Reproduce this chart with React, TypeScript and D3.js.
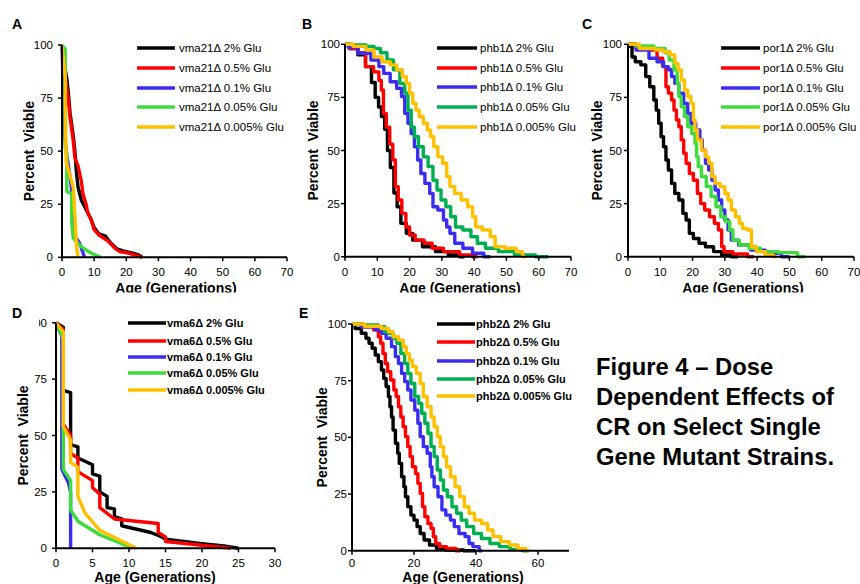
import React from 'react';
import * as d3 from 'd3';

type Pt = [number, number];

// ---------- Panel A : vma21Δ ----------
const vma21Labels = ['vma21Δ 2% Glu', 'vma21Δ 0.5% Glu', 'vma21Δ 0.1% Glu', 'vma21Δ 0.05% Glu', 'vma21Δ 0.005% Glu'];
const vma21_2: Pt[] = [[0,100],[0.5,93],[1.5,84],[2,77],[2.5,68],[3.5,57],[4,50],[4.5,40],[5,33],[6,27],[7,24],[8,21],[9,18],[10,14],[11.5,11],[13.5,10],[15,7],[17,4],[19,3],[22,2],[24,1],[25,0]];
const vma21_05: Pt[] = [[0,100],[1,85],[2,74],[2.5,66],[3.5,55],[4,47],[5,43],[6,36],[6.5,30],[7.5,25],[8,21],[9,18],[10,13],[11.5,10.5],[14,8],[15,6.6],[16.5,4.2],[18,2.7],[21,1.9],[25,0]];
const vma21_01: Pt[] = [[0,100],[0.5,75],[1,55],[1.5,48],[2.5,38],[3,32],[3.5,20],[4,10],[5.5,6.6],[7,0]];
const vma21_005: Pt[] = [[0,100],[1,98],[1,52],[1.5,48],[1.5,31],[3,30],[3,17],[3.5,9],[6,5],[9,2],[12,0]];
const vma21_0005: Pt[] = [[0,100],[1,85],[1,72],[1.3,45],[3.5,33],[4,20],[4.5,5],[5,0]];

// ---------- Panel B : phb1Δ ----------
const phb1Labels = ['phb1Δ 2% Glu', 'phb1Δ 0.5% Glu', 'phb1Δ 0.1% Glu', 'phb1Δ 0.05% Glu', 'phb1Δ 0.005% Glu'];
const phb1_2: Pt[] = [[0,100],[3,98],[5,95],[7.7,89.5],[8.7,82],[10,75],[10.8,70.5],[11.8,66],[12.8,60],[13.5,50],[14.6,42],[15.7,30],[16.6,23.5],[18,15.7],[20,11],[22,7.8],[26,4.7],[30,2.4],[34,0.8],[37,0]];
const phb1_05: Pt[] = [[0,100],[3,98],[5,96],[7.7,89.5],[10,87],[11,83],[11.5,78.5],[12.3,67.5],[13.3,61],[14.4,53],[15.2,45.5],[16,33],[17,26.7],[18.2,20.4],[19.5,14],[20.5,10.2],[23,7.8],[26,6.3],[28,4],[33,2.4],[38,0.8],[41,0]];
const phb1_01: Pt[] = [[0,100],[2,98.6],[6,95.8],[10,92.6],[11,89.5],[13,86.3],[15,82.4],[17,79.3],[18,75.4],[19,67.5],[20,62.8],[21,58],[22,51.8],[23,45.5],[24,39.2],[25.5,34.5],[27,29.8],[27.5,23.5],[30,22],[31,17.3],[32,14],[33,11],[35,6.3],[38,4],[41,1.6],[45,0]];
const phb1_005: Pt[] = [[0,100],[5,99.7],[8,99],[10,98],[12,96],[14,92.6],[16,88],[18,81.6],[19,77],[20,69],[21,61],[22,56.5],[23.5,51.8],[25,47],[26.5,42.4],[28,36],[29,31.4],[30.5,26.7],[32,23.5],[33.5,18.8],[35,14],[38,12.6],[40,9.4],[42,6.3],[45,4],[50,2.4],[55,0.8],[63,0]];
const phb1_0005: Pt[] = [[0,100],[5,99],[8,97.3],[10,94],[13,91.8],[15,90.3],[17,88],[18.5,84.8],[19.5,81.6],[20.5,77],[21.5,72.2],[22.5,69],[23.5,66],[25,62.8],[26,59.7],[27,56.5],[28,51.8],[29.5,47],[31,44],[32,37.7],[33,33],[35,29.8],[37,26.7],[39,23.5],[40,18.8],[41,14],[44,12.6],[46,9.4],[47,4.7],[52,4],[54,2.4],[56,0]];

// ---------- Panel C : por1Δ ----------
const por1Labels = ['por1Δ 2% Glu', 'por1Δ 0.5% Glu', 'por1Δ 0.1% Glu', 'por1Δ 0.05% Glu', 'por1Δ 0.005% Glu'];
const por1_2: Pt[] = [[0,100],[1,99],[1.5,94],[3,91.8],[5,90.3],[6,84.8],[7.5,80],[8.5,73.8],[9,69],[10,62.8],[10.5,56.5],[11.5,51.8],[12,45.5],[13,40.8],[14,34.5],[15,29.8],[16.5,26.7],[17.5,20.4],[18.5,17.3],[19.5,11],[21,8.6],[23,6.3],[25,4.7],[28,2.4],[30,0.8],[34,0]];
const por1_05: Pt[] = [[0,100],[5,98],[8,97.3],[10,93.4],[11.5,89.5],[12,80],[13,77],[14,73.8],[14.5,69],[15.5,64.4],[16,61.2],[17,55],[17.5,48.7],[18.5,44],[19.5,39.2],[21,36],[22,29.8],[23,25],[24.5,22],[26,18.8],[27.5,15.7],[28.5,12.6],[29.5,4.7],[30,2.4],[35,1.3],[39,0]];
const por1_01: Pt[] = [[0,100],[5,97.3],[8,93.4],[10,91.8],[12,89.5],[13,88],[14,84.8],[15,81.6],[16.5,77],[18,72.2],[19,67.5],[20,62.8],[22,59.7],[22.5,55],[23.5,50.2],[24.5,44],[25.5,40.8],[26.5,36],[27.5,31.4],[28.5,26.7],[29.5,22],[30.5,17.3],[31.5,12.6],[32.5,7.8],[36,5.5],[40,3.1],[45,1.6],[50,0]];
const por1_005: Pt[] = [[0,100],[5,99.2],[11,98],[12,96],[13.5,92.6],[15,88],[15.5,81.6],[16,75.4],[17,70.6],[18,66],[19,61.2],[20.5,58],[21,53.4],[21.5,47],[22,42.4],[23.5,37.7],[25,33],[26.5,28.3],[28,23.5],[29.5,18.8],[31,16.5],[32,12.6],[33,7.8],[36,5.5],[39,4],[43,2.4],[50,1.9],[55,0]];
const por1_0005: Pt[] = [[0,100],[7,98],[10,97.3],[12,96.5],[14,95],[15,91],[16,88],[17,83.2],[18,78.5],[19,75.4],[20,72.2],[20.5,64.4],[21,59.7],[22,55],[23.5,50.2],[24.5,47],[25.5,44],[26.5,37.7],[27.5,34.5],[29.5,33],[30.5,29.8],[31.5,26.7],[32.5,22],[34,18.8],[35,15.7],[36,13.3],[38,12.6],[38.5,4.7],[41,2.4],[44,0.8],[46,0]];

// ---------- Panel D : vma6Δ ----------
const vma6Labels = ['vma6Δ 2% Glu', 'vma6Δ 0.5% Glu', 'vma6Δ 0.1% Glu', 'vma6Δ 0.05% Glu', 'vma6Δ 0.005% Glu'];
const vma6_2: Pt[] = [[0,100],[1,98],[1,70],[2,69],[2,46],[3,45],[3,40],[5,37],[5,33],[6,32],[6,25],[7,23],[7,18],[8,17.5],[8,14],[9,13],[9,10],[13,7],[14.5,5],[15,4],[20,2],[23,1],[25,0]];
const vma6_05: Pt[] = [[0,100],[1,97],[1,55],[2,50],[2,42],[3,40],[3,34],[5,30],[5,27],[6,24],[6,18],[8,13],[14,11],[14,7],[15,5],[15,3],[24,0]];
const vma6_01: Pt[] = [[0,100],[0.8,94],[0.8,35],[1.7,29],[2,25],[2,0]];
const vma6_005: Pt[] = [[0,100],[1,93],[1,35],[2,30],[2,17],[3,12],[6,6],[10.5,0]];
const vma6_0005: Pt[] = [[0,100],[1,96],[1,54],[2,48],[2,38],[3,36],[3,23],[4,15.5],[6,8],[11,0]];

// ---------- Panel E : phb2Δ ----------
const phb2Labels = ['phb2Δ 2% Glu', 'phb2Δ 0.5% Glu', 'phb2Δ 0.1% Glu', 'phb2Δ 0.05% Glu', 'phb2Δ 0.005% Glu'];
const phb2_2: Pt[] = [[0,100],[2,98],[4,95.9],[5,93.7],[6,91.5],[7,89.3],[8,86.3],[9,83.4],[10,79.7],[10.5,76],[11.5,72.4],[12,68],[12.5,63.5],[13,59],[13.5,53.2],[14.5,47.4],[15,43],[15.5,38.5],[16.5,32.6],[17,28.2],[17.5,23.8],[18.5,19.4],[19.5,15.7],[20.5,13.5],[21.5,10.6],[22.5,7.6],[24,4.7],[26,2.5],[28.5,1],[32,0.3],[40,0]];
const phb2_05: Pt[] = [[0,100],[6,98.8],[8,97.4],[9,94.4],[9.5,91.5],[10.5,87],[11,82.6],[12,79],[13,75.3],[14,70.9],[14.5,68],[15.5,63.5],[16,59],[17,54.7],[17.5,50.3],[18.5,45.9],[19,41.5],[20,37],[21,34],[21.5,29.7],[22.5,25.3],[23,19.4],[24,15],[25,12],[26,9.9],[26.5,6.2],[27.5,3.2],[29,1.8],[32,1],[35,0]];
const phb2_01: Pt[] = [[0,100],[6,98.8],[9,97.4],[10,95.9],[12,93.7],[13.5,90],[14.5,85.6],[15.5,82.6],[16.5,78.2],[17.5,74.6],[18.5,70.9],[19.5,66.5],[21,62],[21.5,56.2],[22.5,50.3],[23.5,45.9],[25,43],[25.5,37],[26,32.6],[27,28.2],[28.5,23.8],[29.5,18],[31,15.7],[32.5,13.5],[33.5,10.6],[35.5,7.6],[37.5,6.2],[38,3.2],[40,1.8],[42,0]];
const phb2_005: Pt[] = [[0,100],[7,99.6],[10,98.8],[11,96.6],[12.5,95.9],[14,93.7],[15,91.5],[16.5,87],[17.5,82.6],[18.5,78.2],[19.5,73.8],[21,68],[22,65],[23,60.6],[24,56.2],[25,51.8],[26,45.9],[27,41.5],[28,35.6],[29,31.2],[30,26.8],[31.5,23.8],[33,19.4],[34.5,16.5],[36,13.5],[38,10.6],[40.5,7.6],[43,5.4],[46,3.2],[49,1.8],[53,0.6],[57,0]];
const phb2_0005: Pt[] = [[0,100],[8,99],[11,98],[12.5,96.6],[14,94.4],[16,92.9],[17,90],[18,87],[19,84],[20,81.2],[21.5,78.2],[22.5,73.8],[23.5,68],[25,63.5],[26,59],[27,54.7],[28,50.3],[29,45.9],[30,41.5],[31,37],[32.5,32.6],[34,28.2],[35.5,23.8],[37,19.4],[38.5,16.5],[40.5,13.5],[43,12],[44.5,9.1],[46.5,6.2],[49.5,4],[52,2.5],[55,1],[57,0]];

// ---------- ticks & text ----------
const xTicks70 = [0, 10, 20, 30, 40, 50, 60, 70];
const xTicks30 = [0, 5, 10, 15, 20, 25, 30];
const xTicksE = [0, 20, 40, 60];
const yTicks = [0, 25, 50, 75, 100];
const captionLines = ['Figure 4 – Dose', 'Dependent Effects of', 'CR on Select Single', 'Gene Mutant Strains.'];

const FONT = "'Liberation Sans', Arial, Helvetica, sans-serif";
const COLORS_LIGHT = ['#000000', '#ff0000', '#3b2cf2', '#3cdc3c', '#ffc000'];
const COLORS_DARK = ['#000000', '#ff0000', '#3b2cf2', '#00b050', '#ffc000'];

interface PanelCfg {
  letter: string; lx: number; ly: number;
  x0: number; x1: number; yTop: number; yBot: number; xMax: number;
  xTicks: number[]; series: Pt[][]; labels: string[]; colors: string[];
  stepped: boolean[];
  legX1: number; legX2: number; legTx: number; legY: number[]; legBold: boolean; legSize: number;
  yLabOff: number; xLabY: number; yTitleX: number; xTitleX: number; xTitleY: number;
  clip?: string; topLabClip?: string;
}

const panels: PanelCfg[] = [
  { letter: 'A', lx: 12, ly: 29, x0: 62, x1: 287, yTop: 45, yBot: 257.3, xMax: 70, xTicks: xTicks70,
    series: [vma21_2, vma21_05, vma21_01, vma21_005, vma21_0005], labels: vma21Labels, colors: COLORS_LIGHT,
    stepped: [false, false, false, false, false],
    legX1: 137, legX2: 175, legTx: 179, legY: [48, 68, 88, 107, 127], legBold: false, legSize: 11.5,
    yLabOff: 9, xLabY: 276, yTitleX: 29, xTitleX: 176, xTitleY: 293, clip: 'url(#topClip)' },
  { letter: 'B', lx: 302, ly: 29, x0: 345, x1: 571, yTop: 44.3, yBot: 256.7, xMax: 70, xTicks: xTicks70,
    series: [phb1_2, phb1_05, phb1_01, phb1_005, phb1_0005], labels: phb1Labels, colors: COLORS_DARK,
    stepped: [true, true, true, true, true],
    legX1: 437, legX2: 477, legTx: 480, legY: [48, 68, 87, 107, 127], legBold: false, legSize: 11.5,
    yLabOff: 5, xLabY: 276, yTitleX: 313, xTitleX: 460, xTitleY: 293, clip: 'url(#topClip)' },
  { letter: 'C', lx: 582, ly: 29, x0: 628, x1: 854, yTop: 44.3, yBot: 256.7, xMax: 70, xTicks: xTicks70,
    series: [por1_2, por1_05, por1_01, por1_005, por1_0005], labels: por1Labels, colors: COLORS_LIGHT,
    stepped: [true, true, true, true, true],
    legX1: 721, legX2: 760, legTx: 763, legY: [48, 68, 88, 107, 127], legBold: false, legSize: 11.5,
    yLabOff: 6, xLabY: 276, yTitleX: 597, xTitleX: 743, xTitleY: 293, clip: 'url(#topClip)' },
  { letter: 'D', lx: 12, ly: 318, x0: 56, x1: 275, yTop: 322.7, yBot: 548.3, xMax: 30, xTicks: xTicks30,
    series: [vma6_2, vma6_05, vma6_01, vma6_005, vma6_0005], labels: vma6Labels, colors: COLORS_LIGHT,
    stepped: [false, false, false, false, false],
    legX1: 128, legX2: 166, legTx: 167, legY: [323, 341, 357, 373, 390], legBold: true, legSize: 11,
    yLabOff: 9, xLabY: 567, yTitleX: 23, xTitleX: 155, xTitleY: 582, topLabClip: 'url(#dLabClip)' },
  { letter: 'E', lx: 299, ly: 318, x0: 352, x1: 569, yTop: 324, yBot: 550.7, xMax: 70, xTicks: xTicksE,
    series: [phb2_2, phb2_05, phb2_01, phb2_005, phb2_0005], labels: phb2Labels, colors: COLORS_DARK,
    stepped: [true, true, true, true, true],
    legX1: 437, legX2: 475, legTx: 476, legY: [324, 342, 361, 379, 396], legBold: true, legSize: 11,
    yLabOff: 5, xLabY: 567, yTitleX: 322, xTitleX: 463, xTitleY: 582 },
];

function Panel({ c }: { c: PanelCfg }) {
  const x = d3.scaleLinear().domain([0, c.xMax]).range([c.x0, c.x1]);
  const y = d3.scaleLinear().domain([0, 100]).range([c.yBot, c.yTop]);
  const yMid = (c.yTop + c.yBot) / 2;
  return (
    <g>
      <text x={c.lx} y={c.ly} fontFamily={FONT} fontWeight="bold" fontSize={14}>{c.letter}</text>
      {c.series.map((s, i) => {
        const line = d3.line<Pt>().x(d => x(d[0])).y(d => y(d[1]))
          .curve(c.stepped[i] ? d3.curveStep : d3.curveLinear);
        return <path key={i} d={line(s) || ''} fill="none" stroke={c.colors[i]} strokeWidth={3.4}
          strokeLinejoin="round" strokeLinecap="butt" />;
      })}
      <line x1={c.x0} x2={c.x0} y1={c.yTop} y2={c.yBot + 1} stroke="#000" strokeWidth={2} />
      <line x1={c.x0 - 1} x2={c.x1} y1={c.yBot} y2={c.yBot} stroke="#000" strokeWidth={2} />
      {yTicks.map(t => (
        <g key={'y' + t}>
          <line x1={c.x0 - 4} x2={c.x0} y1={y(t)} y2={y(t)} stroke="#000" strokeWidth={1.5} />
          <text x={c.x0 - c.yLabOff} y={y(t) + 4} textAnchor="end" fontFamily={FONT} fontSize={11.5}
            clipPath={t === 100 ? c.topLabClip : undefined}>{t}</text>
        </g>
      ))}
      {c.xTicks.map(t => (
        <g key={'x' + t}>
          <line x1={x(t)} x2={x(t)} y1={c.yBot} y2={c.yBot + 4} stroke="#000" strokeWidth={1.5} />
          <text x={x(t)} y={c.xLabY} textAnchor="middle" fontFamily={FONT} fontSize={11.5}>{t}</text>
        </g>
      ))}
      <text transform={`translate(${c.yTitleX + 5},${yMid}) rotate(-90)`} textAnchor="middle"
        fontFamily={FONT} fontWeight="bold" fontSize={14} style={{ whiteSpace: 'pre' }}>{'Percent  Viable'}</text>
      <text x={c.xTitleX} y={c.xTitleY} textAnchor="middle" fontFamily={FONT} fontWeight="bold" fontSize={14}
        clipPath={c.clip}>Age (Generations)</text>
      {c.labels.map((lab, i) => (
        <g key={'l' + i}>
          <line x1={c.legX1} x2={c.legX2} y1={c.legY[i]} y2={c.legY[i]} stroke={c.colors[i]} strokeWidth={3.6} />
          <text x={c.legTx} y={c.legY[i] + 4} fontFamily={FONT} fontSize={c.legSize}
            fontWeight={c.legBold ? 'bold' : 'normal'}>{lab}</text>
        </g>
      ))}
    </g>
  );
}

export default function App() {
  return (
    <svg width={860} height={584} viewBox="0 0 860 584"
      style={{ position: 'absolute', left: 0, top: 0, display: 'block', background: '#fff' }}>
      <defs>
        <clipPath id="topClip" clipPathUnits="userSpaceOnUse">
          <rect x={0} y={0} width={860} height={292.5} />
        </clipPath>
        <clipPath id="dLabClip" clipPathUnits="userSpaceOnUse">
          <rect x={39} y={300} width={100} height={284} />
        </clipPath>
      </defs>
      <rect x={0} y={0} width={860} height={584} fill="#fff" />
      {panels.map(p => <Panel key={p.letter} c={p} />)}
      {captionLines.map((t, i) => (
        <text key={i} x={596} y={375 + i * 30} fontFamily={FONT} fontWeight="bold" fontSize={23.8}>{t}</text>
      ))}
    </svg>
  );
}
